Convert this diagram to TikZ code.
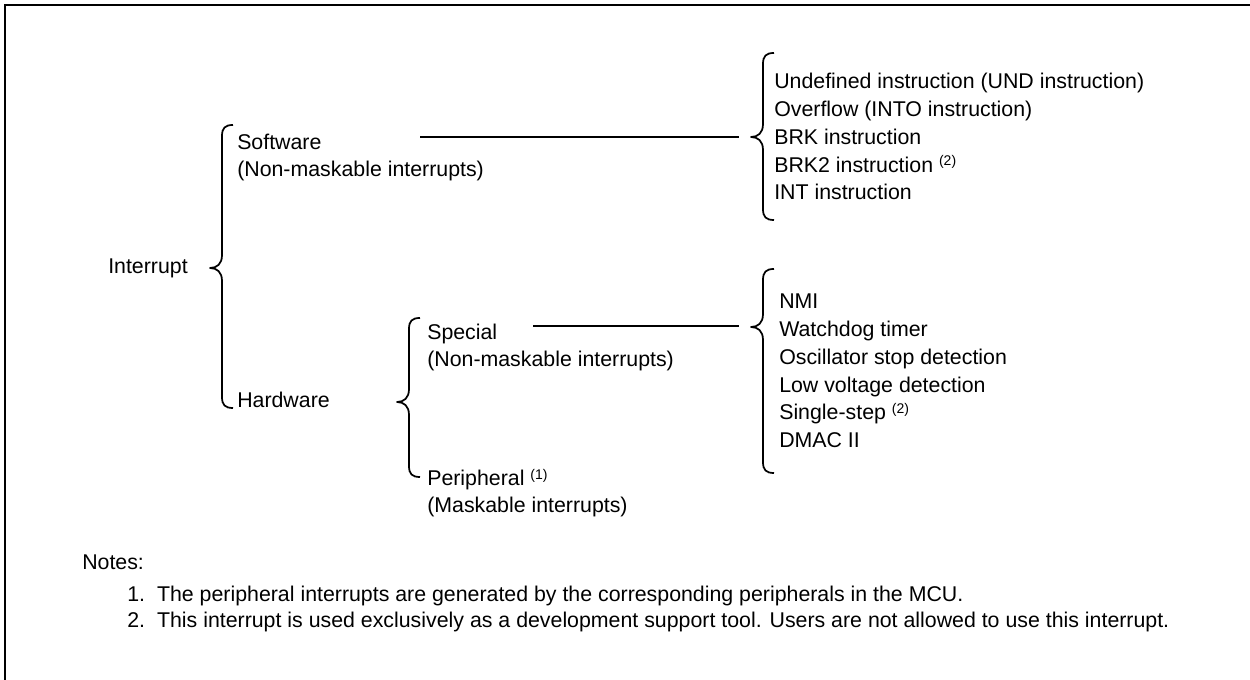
\documentclass[tikz,border=0pt]{standalone}
\usepackage{fontspec}
\setmainfont{Liberation Sans}
\newcommand\ssup[1]{\raisebox{5pt}{\fontsize{10.5}{11}\selectfont(#1)}}
\newcommand\cbrace[4]{% x, top, cusp y, bottom
  \draw[bracestyle] ({#1+11},#2) .. controls ({#1+3},#2) and (#1,{#2+3}) .. (#1,{#2+11})
    -- (#1,{#3-13}) .. controls (#1,{#3-4}) and ({#1-5},#3) .. ({#1-12},#3)
    .. controls ({#1-5},#3) and (#1,{#3+4}) .. (#1,{#3+13})
    -- (#1,{#4-11}) .. controls (#1,{#4-3}) and ({#1+3},#4) .. ({#1+11},#4);}
\tikzset{
  bracestyle/.style={line width=1.3pt, line join=round},
  conn/.style={line width=1.4pt},
  frameline/.style={line width=1.6pt},
  lbl/.style={anchor=base west, inner sep=0pt, font=\fontsize{16}{19.6}\selectfont},
  lst/.style={anchor=base west, inner sep=0pt, font=\fontsize{16}{20.8}\selectfont},
  note/.style={anchor=base west, inner sep=0pt, font=\fontsize{16}{18.8}\selectfont},
}
\begin{document}
\begin{tikzpicture}[x=0.75pt, y=-0.75pt]
\useasboundingbox (0,0) rectangle (1250,680);
\draw[frameline] (5,680) -- (5,5) -- (1250,5);

% labels
\node[lbl] (intr) at (108,274) {Interrupt};
\node[lbl] (sw) at (237,150) {\begin{tabular}[t]{@{}l@{}}Software\\(Non-maskable interrupts)\end{tabular}};
\node[lbl] (hw) at (237,408) {Hardware};
\node[lbl] (sp) at (427,340) {\begin{tabular}[t]{@{}l@{}}Special\\(Non-maskable interrupts)\end{tabular}};
\node[lbl] (pe) at (427,486) {\begin{tabular}[t]{@{}l@{}}Peripheral \ssup{1}\\(Maskable interrupts)\end{tabular}};

\node[lst] (l1) at (774,89) {\begin{tabular}[t]{@{}l@{}}Undefined instruction (UND instruction)\\Overflow (INTO instruction)\\BRK instruction\\BRK2 instruction \ssup{2}\\INT instruction\end{tabular}};
\node[lst] (l2) at (779,309) {\begin{tabular}[t]{@{}l@{}}NMI\\Watchdog timer\\Oscillator stop detection\\Low voltage detection\\Single-step \ssup{2}\\DMAC II\end{tabular}};

% braces
\cbrace{222}{125}{268}{408}
\cbrace{409}{318}{402}{477}
\cbrace{763}{53}{137}{220}
\cbrace{763}{269}{327}{473}

% connectors
\coordinate (swa) at (420,137);
\coordinate (swb) at (739,137);
\coordinate (spa) at (533,326);
\coordinate (spb) at (739,326);
\draw[conn] (swa) -- (swb);
\draw[conn] (spa) -- (spb);

% notes
\node[note] (nh) at (82,570) {Notes:};
\node[note] (nl) at (127,602) {\begin{tabular}[t]{@{}l@{\hspace{9pt}}l@{}}1.&The peripheral interrupts are generated by the corresponding peripherals in the MCU.\\2.&This interrupt is used exclusively as a development support tool. Users are not allowed to use this interrupt.\end{tabular}};
\end{tikzpicture}
\end{document}
